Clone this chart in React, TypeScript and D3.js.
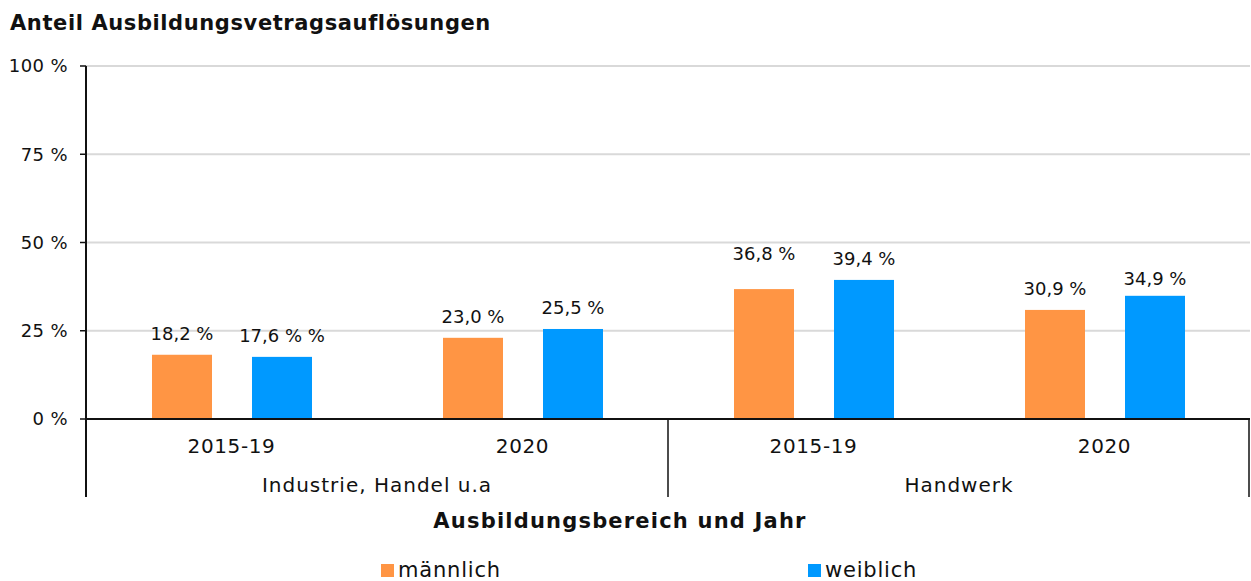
import * as d3 from "d3";

const groups = ["Industrie, Handel u.a", "Handwerk"];
const years = ["2015-19", "2020", "2015-19", "2020"];
const maennlich = [18.2, 23.0, 36.8, 30.9];
const weiblich = [17.6, 25.5, 39.4, 34.9];
const maennlichLabels = ["18,2 %", "23,0 %", "36,8 %", "30,9 %"];
const weiblichLabels = ["17,6 % %", "25,5 %", "39,4 %", "34,9 %"];
const yTicks = [0, 25, 50, 75, 100];
const seriesNames = ["männlich", "weiblich"];

const W = 1251;
const H = 581;
const left = 86;
const right = 1250;
const top = 66;
const bottom = 419;
const font = "DejaVu Sans, sans-serif";
const colors = ["#ff9544", "#0099ff"];
// the 36,8 % label sits a bit higher in the original
const labelNudge = [[0, 0, -14, 0], [0, 0, 0, 4]];

export default function App() {
  const x = d3
    .scaleBand<number>()
    .domain(d3.range(years.length))
    .range([left, right]);
  const inner = d3
    .scaleBand<number>()
    .domain([0, 1])
    .range([66, x.bandwidth() - 65])
    .paddingInner(0.4);
  const y = d3.scaleLinear().domain([0, 100]).range([bottom, top]);
  const gx = d3.scaleBand<number>().domain([0, 1]).range([left, right]);

  const series = [
    { vals: maennlich, labels: maennlichLabels },
    { vals: weiblich, labels: weiblichLabels },
  ];

  return (
    <svg
      width={W}
      height={H}
      style={{ position: "absolute", left: 0, top: 0, fontFamily: font }}
    >
      <text x={10} y={30} fontSize={21} fontWeight="bold" letterSpacing={0.6} fill="#111">
        Anteil Ausbildungsvetragsauflösungen
      </text>

      {yTicks.map(t => (
        <g key={t}>
          {t > 0 && (
            <line x1={left} x2={right} y1={y(t)} y2={y(t)} stroke="#d9d9d9" strokeWidth={2} />
          )}
          <line x1={left - 6} x2={left} y1={y(t)} y2={y(t)} stroke="#111" strokeWidth={1.5} />
          <text x={68} y={y(t)} dy="0.35em" textAnchor="end" fontSize={18} letterSpacing={0.4} fill="#111">
            {t} %
          </text>
        </g>
      ))}

      {series.map((s, si) =>
        s.vals.map((v, i) => {
          const bx = (x(i) as number) + (inner(si) as number);
          return (
            <g key={`${si}-${i}`}>
              <rect
                x={bx}
                y={y(v)}
                width={inner.bandwidth()}
                height={y(0) - y(v)}
                fill={colors[si]}
              />
              <text
                x={bx + inner.bandwidth() / 2}
                y={y(v) - 15 + labelNudge[si][i]}
                textAnchor="middle"
                fontSize={18}
                fill="#111"
              >
                {s.labels[i]}
              </text>
            </g>
          );
        })
      )}

      <line x1={left} x2={left} y1={top} y2={497} stroke="#111" strokeWidth={2} />
      <line x1={left} x2={right} y1={bottom} y2={bottom} stroke="#111" strokeWidth={2} />
      <line x1={gx(1)} x2={gx(1)} y1={bottom} y2={497} stroke="#111" strokeWidth={1.5} />
      <line x1={right - 1} x2={right - 1} y1={bottom} y2={497} stroke="#111" strokeWidth={1.5} />

      {years.map((yr, i) => (
        <text
          key={i}
          x={(x(i) as number) + x.bandwidth() / 2}
          y={453}
          textAnchor="middle"
          fontSize={20}
          letterSpacing={0.6}
          fill="#111"
        >
          {yr}
        </text>
      ))}
      {groups.map((g, i) => (
        <text
          key={g}
          x={(gx(i) as number) + gx.bandwidth() / 2}
          y={492}
          textAnchor="middle"
          fontSize={20}
          letterSpacing={1}
          fill="#111"
        >
          {g}
        </text>
      ))}

      <text x={620} y={528} textAnchor="middle" fontSize={21} fontWeight="bold" letterSpacing={1.2} fill="#111">
        Ausbildungsbereich und Jahr
      </text>

      {seriesNames.map((n, i) => (
        <g key={n} transform={`translate(${[381, 808][i]},0)`}>
          <rect x={0} y={564} width={13} height={13} fill={colors[i]} />
          <text x={17} y={577} fontSize={21} letterSpacing={0.8} fill="#111">
            {n}
          </text>
        </g>
      ))}
    </svg>
  );
}
